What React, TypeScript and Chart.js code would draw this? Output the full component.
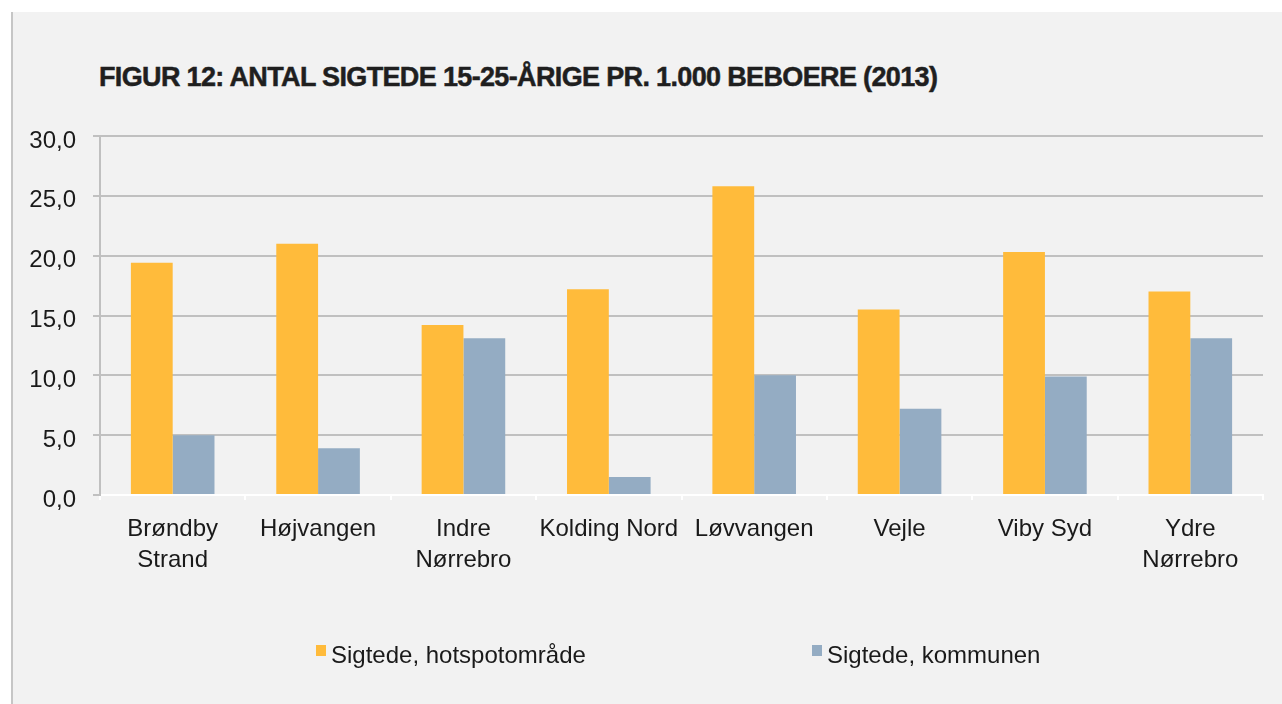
import React, { useEffect, useRef } from "react";
import { Chart, registerables } from "chart.js";

Chart.register(...registerables);

const TITLE = "FIGUR 12: ANTAL SIGTEDE 15-25-ÅRIGE PR. 1.000 BEBOERE (2013)";

const categories: string[][] = [
  ["Brøndby", "Strand"],
  ["Højvangen"],
  ["Indre", "Nørrebro"],
  ["Kolding Nord"],
  ["Løvvangen"],
  ["Vejle"],
  ["Viby Syd"],
  ["Ydre", "Nørrebro"],
];

const seriesNames = ["Sigtede, hotspotområde", "Sigtede, kommunen"];
const hotspotValues = [19.4, 21.0, 14.2, 17.2, 25.8, 15.5, 20.3, 17.0];
const kommuneValues = [5.0, 3.9, 13.1, 1.5, 10.0, 7.2, 9.9, 13.1];
const seriesColors = ["#FFBB3B", "#94ACC3"];

const yMin = 0;
const yMax = 30;
const yStep = 5;

const FONT = "'Liberation Sans', Arial, Helvetica, sans-serif";

export default function App() {
  const canvasRef = useRef<HTMLCanvasElement | null>(null);

  useEffect(() => {
    const canvas = canvasRef.current;
    if (!canvas) return;
    const chart = new Chart(canvas, {
      type: "bar",
      data: {
        labels: categories,
        datasets: [
          {
            label: seriesNames[0],
            data: hotspotValues,
            backgroundColor: seriesColors[0],
            borderWidth: 0,
          },
          {
            label: seriesNames[1],
            data: kommuneValues,
            backgroundColor: seriesColors[1],
            borderWidth: 0,
          },
        ],
      },
      options: {
        responsive: false,
        animation: false,
        devicePixelRatio: 1,
        datasets: {
          bar: { categoryPercentage: 0.575, barPercentage: 1 },
        },
        layout: { padding: { left: 0, right: 19, top: 136, bottom: 109 } },
        plugins: {
          legend: { display: false },
          tooltip: { enabled: false },
          title: { display: false },
        },
        scales: {
          x: {
            afterFit: (s: any) => {
              s.height = 100;
            },
            grid: {
              drawOnChartArea: false,
              color: "#ffffff",
              lineWidth: 2,
              tickLength: 5,
              offset: true,
            },
            border: { display: true, color: "#ffffff", width: 2 },
            ticks: {
              color: "#1a1a1a",
              padding: 14,
              maxRotation: 0,
              autoSkip: false,
              font: { family: FONT, size: 24, lineHeight: 1.28 },
            },
          },
          y: {
            min: yMin,
            max: yMax,
            afterFit: (s: any) => {
              s.width = 100;
            },
            grid: {
              color: (ctx: any) =>
                ctx.tick && ctx.tick.value === 0 ? "rgba(0,0,0,0)" : "#c0c0c0",
              tickColor: "#c0c0c0",
              lineWidth: 2,
              tickLength: 7,
            },
            border: { display: true, color: "#c0c0c0", width: 2 },
            ticks: {
              stepSize: yStep,
              color: "#1a1a1a",
              padding: 17,
              labelOffset: 5,
              font: { family: FONT, size: 24 },
              callback: (v: any) => Number(v).toFixed(1).replace(".", ","),
            },
          },
        },
      },
    });
    return () => chart.destroy();
  }, []);

  const legendItem = (i: number, left: number) => (
    <div
      key={i}
      style={{
        position: "absolute",
        left,
        top: 643,
        display: "flex",
        alignItems: "flex-start",
        whiteSpace: "nowrap",
        fontFamily: FONT,
        fontSize: 24,
        lineHeight: "24px",
        color: "#1a1a1a",
      }}
    >
      <span
        style={{
          display: "inline-block",
          width: 10,
          height: 11,
          marginTop: 2,
          marginRight: 5,
          background: seriesColors[i],
        }}
      />
      <span>{seriesNames[i]}</span>
    </div>
  );

  return (
    <div
      style={{
        position: "fixed",
        left: 0,
        top: 0,
        width: 1282,
        height: 704,
        background: "#ffffff",
        overflow: "hidden",
      }}
    >
      <div
        style={{
          position: "absolute",
          left: 13,
          top: 12,
          right: 0,
          bottom: 0,
          background: "#f2f2f2",
        }}
      />
      <div
        style={{
          position: "absolute",
          left: 11,
          top: 12,
          width: 2,
          bottom: 0,
          background: "#c6c6c6",
        }}
      />
      <div
        style={{
          position: "absolute",
          left: 99,
          top: 64,
          fontFamily: FONT,
          fontWeight: 700,
          fontSize: 27,
          lineHeight: "27px",
          letterSpacing: "-0.65px",
          color: "#1f1f1f",
          WebkitTextStroke: "0.5px #1f1f1f",
          whiteSpace: "nowrap",
        }}
      >
        {TITLE}
      </div>
      <canvas
        ref={canvasRef}
        width={1282}
        height={704}
        style={{ position: "absolute", left: 0, top: 0, width: 1282, height: 704 }}
      />
      {legendItem(0, 316)}
      {legendItem(1, 812)}
    </div>
  );
}
